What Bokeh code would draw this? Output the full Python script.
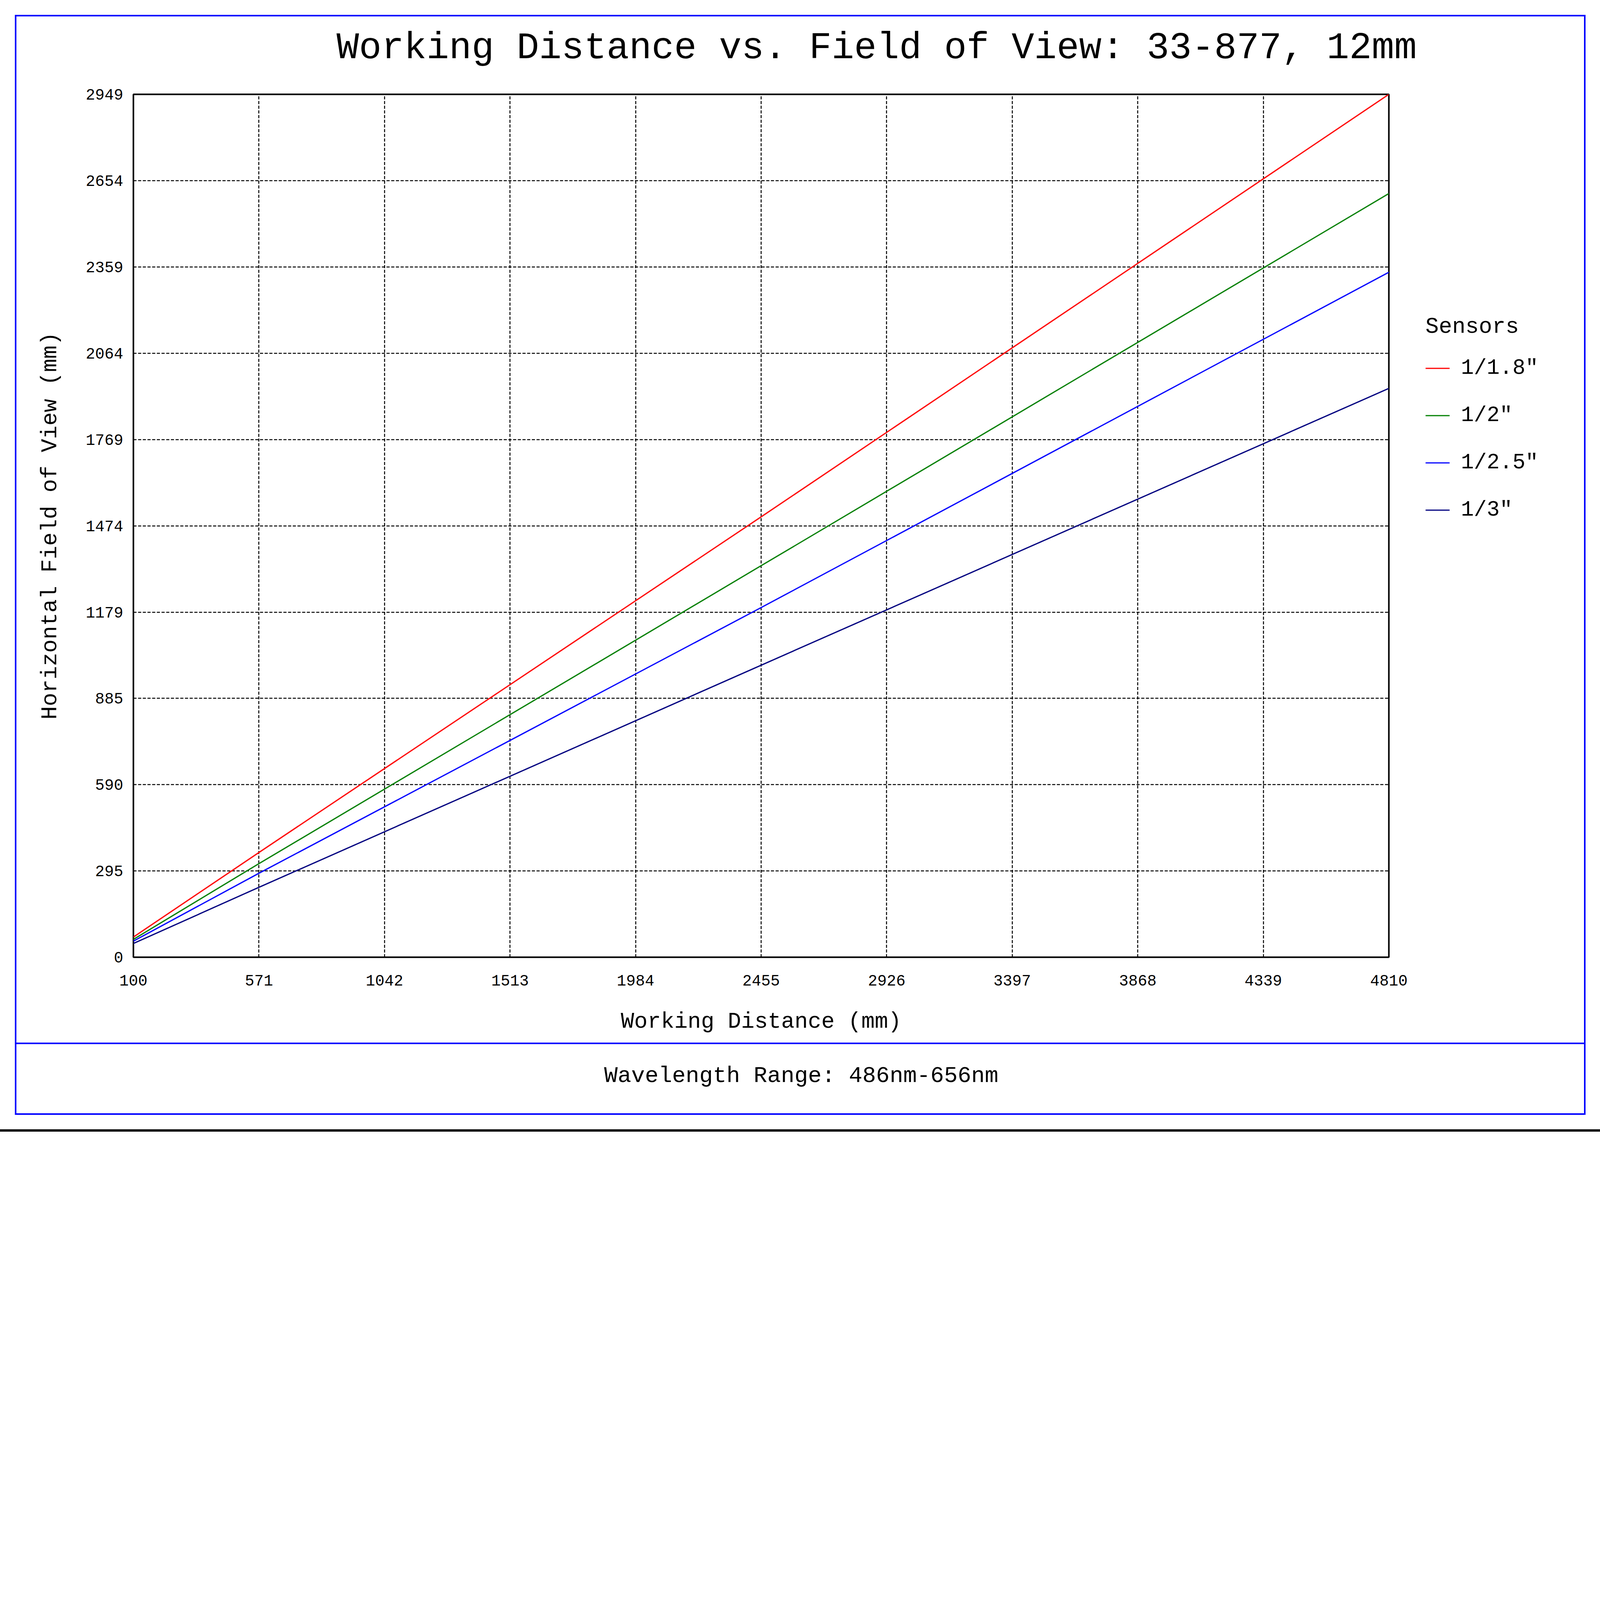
from bokeh.plotting import figure
from bokeh.models import (Range1d, FixedTicker, Legend, LegendItem, Title)
from bokeh.embed import file_html
from bokeh.resources import INLINE

# ---- data ----
x_ticks = [100, 571, 1042, 1513, 1984, 2455, 2926, 3397, 3868, 4339, 4810]
y_ticks = [0, 295, 590, 885, 1179, 1474, 1769, 2064, 2359, 2654, 2949]
wd = [100, 571, 2455, 4810]
fov_18 = [69, 358, 1505, 2949]
fov_2 = [61, 320, 1338, 2610]
fov_25 = [55, 287, 1195, 2341]
fov_3 = [47, 239, 998, 1944]
sensor_names = ['1/1.8"', '1/2"', '1/2.5"', '1/3"']
sensor_colors = ["#ff0000", "#008000", "#0000ff", "#000080"]
series = [fov_18, fov_2, fov_25, fov_3]

FONT = "Liberation Mono"

ML, MT, FW, FH = 341, 241, 3214, 2209
CW, CH = 4080, 2897

p = figure(frame_width=FW, frame_height=FH,
           min_border_left=ML, min_border_right=CW - ML - FW,
           min_border_top=MT, min_border_bottom=CH - MT - FH,
           x_range=Range1d(100, 4810), y_range=Range1d(0, 2949),
           output_backend="svg", toolbar_location=None,
           background_fill_color="white", border_fill_color=None)

p.outline_line_color = "black"
p.outline_line_width = 4

for ax in (p.xaxis[0], p.yaxis[0]):
    ax.major_tick_line_color = None
    ax.minor_tick_line_color = None
    ax.axis_line_color = None
    ax.major_label_text_font = FONT
    ax.major_label_text_font_size = "40px"
    ax.major_label_text_color = "black"
    ax.axis_label_text_font = FONT
    ax.axis_label_text_font_size = "57px"
    ax.axis_label_text_font_style = "normal"
    ax.axis_label_text_color = "black"

p.xaxis.ticker = FixedTicker(ticks=x_ticks)
p.yaxis.ticker = FixedTicker(ticks=y_ticks)
p.xaxis.axis_label = "Working Distance (mm)"
p.yaxis.axis_label = "Horizontal Field of View (mm)"
p.xaxis.major_label_standoff = 39
p.xaxis.axis_label_standoff = 58
p.yaxis.major_label_standoff = 20
p.yaxis.axis_label_standoff = 55

for g in (p.xgrid[0], p.ygrid[0]):
    g.grid_line_color = "black"
    g.grid_line_width = 2.5
    g.grid_line_dash = "8 4"

items = []
for name, col, ys in zip(sensor_names, sensor_colors, series):
    r = p.line(wd, ys, line_color=col, line_width=3.2)
    items.append(LegendItem(label=name, renderers=[r]))

legend = Legend(items=items, location=(94, 1111), title="Sensors",
                title_text_font=FONT, title_text_font_size="57px",
                title_text_font_style="normal", title_text_color="black",
                title_standoff=40,
                label_text_font=FONT, label_text_font_size="55px",
                label_text_color="black",
                glyph_width=62, glyph_height=67, label_height=67,
                label_standoff=29, spacing=54, padding=0, margin=0,
                border_line_color=None, background_fill_alpha=0)
p.add_layout(legend, "right")

# title
p.title.text = "Working Distance vs. Field of View: 33-877, 12mm"
p.title.text_font = FONT
p.title.text_font_size = "96px"
p.title.text_font_style = "normal"
p.title.text_color = "black"
p.title.align = "left"
p.title.offset = 520
p.title.standoff = 128

# footer text
p.add_layout(Title(text="Wavelength Range: 486nm-656nm", text_font=FONT,
                   text_font_size="58px", text_font_style="normal",
                   text_color="black", align="left", offset=1205,
                   vertical_align="top", standoff=142),
             "below")

# page frame: blue box with footer divider, black rule at the bottom
B = "linear-gradient(#0000ff,#0000ff)"
K = "linear-gradient(#000000,#000000)"
p.styles = {
    "background-image": ", ".join([B, B, B, B, B, K]),
    "background-position": "38px 38px, 38px 2850px, 38px 38px, 4055px 38px, 38px 2669px, 0px 2891px",
    "background-size": "4021px 4px, 4021px 4px, 4px 2816px, 4px 2816px, 4021px 4px, 100% 6px",
    "background-repeat": "no-repeat",
    "background-color": "white",
}

open("out.html", "w").write(file_html(p, INLINE))
